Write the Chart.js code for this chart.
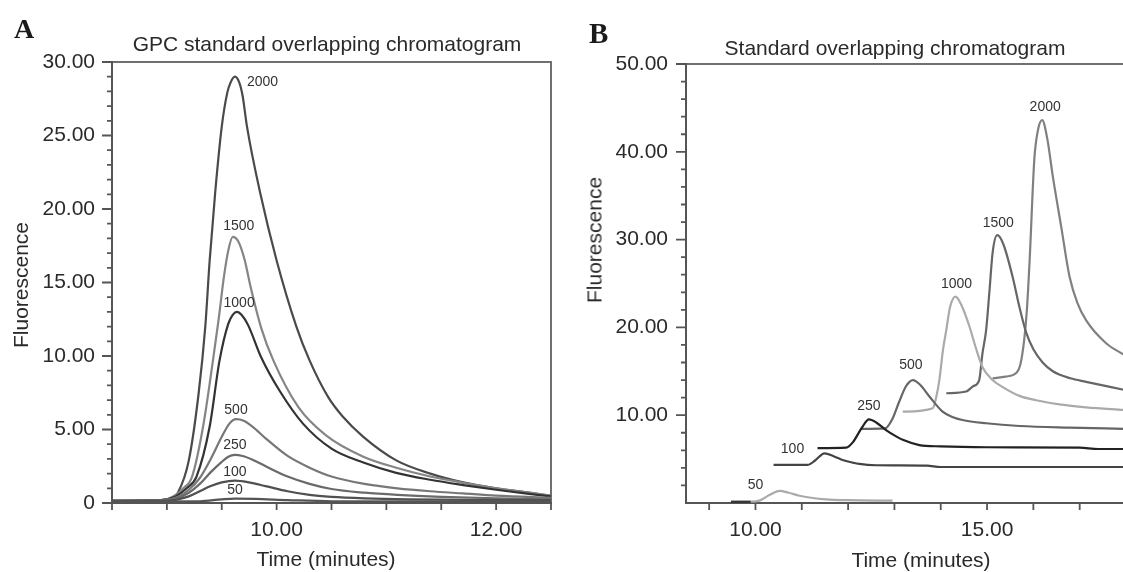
<!DOCTYPE html>
<html>
<head>
<meta charset="utf-8">
<script src="https://cdn.jsdelivr.net/npm/chart.js@4.4.0/dist/chart.umd.min.js"></script>
<style>
  html, body { margin: 0; padding: 0; background: #fff; overflow: hidden; width: 1123px; height: 572px; }
  .wrap { position: absolute; top: 0; }
  #wrapA { left: 0; }
  #wrapB { left: 560px; }
  .txt { position: absolute; font-family: "Liberation Sans", Arial, sans-serif; color: #2a2a2a; white-space: nowrap; line-height: 1; }
  .mid { transform: translate(-50%, -50%); }
  .rot { transform: translate(-50%, -50%) rotate(-90deg); }
  .panel { font-family: "Liberation Serif", "Times New Roman", serif; font-weight: bold; color: #1a1a1a; line-height: 1; }
</style>
</head>
<body>
<div id="wrapA" class="wrap"><canvas id="chartA" width="560" height="572"></canvas></div>
<div id="wrapB" class="wrap"><canvas id="chartB" width="580" height="572"></canvas></div>

<div class="txt panel" style="left:14px;top:15px;font-size:28px">A</div>
<div class="txt panel" style="left:589px;top:19px;font-size:29px">B</div>
<div class="txt mid" style="left:327px;top:43px;font-size:21px">GPC standard overlapping chromatogram</div>
<div class="txt mid" style="left:895px;top:47px;font-size:21px">Standard overlapping chromatogram</div>
<div class="txt rot" style="left:20px;top:285px;font-size:21px">Fluorescence</div>
<div class="txt rot" style="left:594px;top:240px;font-size:21px">Fluorescence</div>
<div class="txt mid" style="left:326px;top:558px;font-size:21px">Time (minutes)</div>
<div class="txt mid" style="left:921px;top:559px;font-size:21px">Time (minutes)</div>

<script>
// ---- Panel A: GPC standard overlay (time min, fluorescence) ----
const aSeries = ['2000', '1500', '1000', '500', '250', '100', '50'];
const a2000 = [[8.5,0.15],[8.95,0.2],[9.05,0.4],[9.1,0.7],[9.2,2.9],[9.29,7.5],[9.35,12.0],[9.39,16.5],[9.44,21.1],[9.5,25.6],[9.55,27.9],[9.58,28.6],[9.62,29.0],[9.66,28.6],[9.69,27.7],[9.73,25.6],[9.85,21.1],[10.0,16.5],[10.18,12.0],[10.3,9.7],[10.47,7.2],[10.6,5.9],[10.79,4.5],[11.09,2.9],[11.4,2.0],[11.7,1.4],[12.0,1.0],[12.3,0.7],[12.5,0.48]];
const a1500 = [[8.5,0.15],[8.95,0.2],[9.05,0.4],[9.15,1.0],[9.23,1.8],[9.33,5.2],[9.42,9.7],[9.47,12.4],[9.52,15.4],[9.56,17.2],[9.6,18.1],[9.65,17.8],[9.71,16.5],[9.76,14.8],[9.86,11.9],[9.97,9.7],[10.2,6.5],[10.45,4.6],[10.79,3.15],[11.09,2.4],[11.4,1.8],[11.7,1.38],[12.0,1.0],[12.3,0.7],[12.5,0.5]];
const a1000 = [[8.5,0.15],[8.95,0.2],[9.08,0.45],[9.18,1.0],[9.27,1.8],[9.39,5.2],[9.48,9.7],[9.56,12.2],[9.6,12.8],[9.64,13.0],[9.68,12.8],[9.74,12.1],[9.86,9.9],[10.03,7.6],[10.24,5.4],[10.5,3.7],[10.79,2.75],[11.09,2.05],[11.4,1.58],[11.7,1.22],[12.0,0.9],[12.3,0.62],[12.5,0.45]];
const a500 = [[8.5,0.15],[8.95,0.2],[9.1,0.4],[9.2,0.9],[9.3,1.7],[9.4,3.0],[9.5,4.5],[9.57,5.4],[9.63,5.7],[9.7,5.6],[9.78,5.2],[9.9,4.4],[10.1,3.2],[10.3,2.4],[10.5,1.8],[10.8,1.3],[11.1,1.0],[11.4,0.8],[11.7,0.65],[12.0,0.5],[12.5,0.35]];
const a250 = [[8.5,0.15],[9.0,0.2],[9.1,0.35],[9.2,0.7],[9.3,1.3],[9.4,2.1],[9.5,2.8],[9.56,3.15],[9.62,3.27],[9.69,3.2],[9.78,2.95],[9.9,2.5],[10.1,1.8],[10.3,1.3],[10.5,0.95],[10.8,0.7],[11.1,0.55],[11.5,0.42],[12.0,0.32],[12.5,0.25]];
const a100 = [[8.5,0.15],[9.0,0.15],[9.1,0.25],[9.2,0.45],[9.3,0.8],[9.4,1.15],[9.5,1.4],[9.62,1.52],[9.75,1.4],[9.9,1.15],[10.1,0.8],[10.3,0.55],[10.5,0.42],[10.8,0.32],[11.2,0.25],[12.0,0.2],[12.5,0.2]];
const a50 = [[8.5,0.1],[9.3,0.12],[9.5,0.25],[9.62,0.3],[9.8,0.28],[10.1,0.2],[10.5,0.12],[12.5,0.1]];
const aYLabels = [0, 5, 10, 15, 20, 25, 30];
const aXLabels = [10, 12];

// ---- Panel B: offset standard overlay ----
const bSeries = ['2000', '1500', '1000', '500', '250', '100', '50'];
const b2000 = [[15.12,14.2],[15.4,14.4],[15.63,14.8],[15.72,15.8],[15.8,18.5],[15.86,22],[15.92,27.7],[16.02,39.1],[16.1,42.5],[16.19,43.6],[16.3,41.5],[16.42,37.2],[16.6,31.5],[16.78,25.8],[16.95,22.8],[17.14,20.8],[17.57,18.2],[17.95,16.9]];
const b1500 = [[14.12,12.5],[14.55,12.7],[14.7,13.3],[14.83,14.0],[14.9,17],[14.98,19.7],[15.05,24],[15.12,28.5],[15.22,30.5],[15.35,29.5],[15.55,25.8],[15.7,22.3],[15.84,19.5],[16.0,17.5],[16.2,16.0],[16.42,15.0],[16.8,14.2],[17.14,13.8],[17.95,12.9]];
const b1000 = [[13.18,10.4],[13.83,10.8],[13.9,12.0],[13.97,14.0],[14.05,17.5],[14.12,19.7],[14.2,22.3],[14.32,23.5],[14.45,22.5],[14.62,20.1],[14.75,17.8],[14.9,15.5],[15.1,14.1],[15.34,13.2],[15.7,12.2],[16.06,11.7],[16.6,11.2],[17.14,10.9],[17.95,10.6]];
const b500 = [[12.28,8.45],[12.8,8.5],[12.95,9.5],[13.1,11.5],[13.25,13.3],[13.4,14.0],[13.55,13.5],[13.76,12.1],[14.04,10.4],[14.25,9.8],[14.47,9.45],[14.98,9.08],[15.7,8.77],[16.77,8.58],[17.95,8.45]];
const b250 = [[11.34,6.25],[11.96,6.3],[12.1,6.9],[12.3,8.6],[12.45,9.53],[12.6,9.2],[12.82,8.3],[13.0,7.7],[13.18,7.2],[13.54,6.6],[14.0,6.45],[15.0,6.35],[17.0,6.3],[17.4,6.15],[17.95,6.15]];
const b100 = [[10.39,4.35],[11.13,4.35],[11.3,4.9],[11.49,5.66],[11.7,5.3],[11.88,4.9],[12.1,4.6],[12.24,4.45],[12.6,4.3],[13.7,4.25],[14.0,4.1],[17.95,4.1]];
const b50 = [[9.47,0.15],[9.9,0.15],[10.1,0.3],[10.3,0.9],[10.52,1.37],[10.7,1.2],[10.95,0.83],[11.2,0.6],[11.52,0.42],[12.0,0.32],[12.96,0.26]];
const bYLabels = [10, 20, 30, 40, 50];
const bXLabels = [10, 15];

const FONT = '"Liberation Sans", Arial, sans-serif';
const pts = arr => arr.map(([x, y]) => ({ x, y }));
const range = (from, to, step) => {
    const out = [];
    for (let v = from; v <= to + 1e-9; v += step) out.push(Math.round(v * 100) / 100);
    return out;
};

// frame + tick marks drawn from the chart's own scales
const axisFrame = {
    id: 'axisFrame',
    beforeDatasetsDraw(chart, args, o) {
        const { ctx, chartArea: a } = chart;
        const xs = chart.scales.x, ys = chart.scales.y;
        ctx.save();
        ctx.lineCap = 'square';
        ctx.strokeStyle = o.edgeColor;
        ctx.lineWidth = 2;
        ctx.beginPath();
        if (o.sides.includes('top')) { ctx.moveTo(a.left, a.top); ctx.lineTo(a.right, a.top); }
        if (o.sides.includes('right')) { ctx.moveTo(a.right, a.top); ctx.lineTo(a.right, a.bottom); }
        ctx.stroke();
        ctx.strokeStyle = o.axisColor;
        ctx.beginPath();
        ctx.moveTo(a.left, a.top); ctx.lineTo(a.left, a.bottom); ctx.lineTo(a.right, a.bottom);
        ctx.stroke();
        ctx.lineWidth = 1.8;
        ctx.lineCap = 'butt';
        ctx.beginPath();
        o.yTicks.forEach(v => {
            const p = ys.getPixelForValue(v);
            const len = v % o.yMajorStep === 0 ? 10 : 5;
            ctx.moveTo(a.left, p); ctx.lineTo(a.left - len, p);
        });
        o.xTicks.forEach(v => {
            const p = xs.getPixelForValue(v);
            ctx.moveTo(p, a.bottom); ctx.lineTo(p, a.bottom + 7);
        });
        ctx.stroke();
        ctx.restore();
    }
};

// concentration tags placed at each curve's maximum
const peakLabels = {
    id: 'peakLabels',
    afterDatasetsDraw(chart) {
        const { ctx } = chart;
        const xs = chart.scales.x, ys = chart.scales.y;
        ctx.save();
        ctx.font = '14px ' + FONT;
        ctx.fillStyle = '#333';
        ctx.textBaseline = 'middle';
        chart.data.datasets.forEach(ds => {
            let top = ds.data[0];
            ds.data.forEach(p => { if (p.y > top.y) top = p; });
            ctx.textAlign = ds.tagAlign || 'center';
            ctx.fillText(ds.label, xs.getPixelForValue(top.x) + ds.tagDx, ys.getPixelForValue(top.y) + ds.tagDy);
        });
        ctx.restore();
    }
};

function line(label, data, color, tag) {
    return Object.assign({
        label: label,
        data: pts(data),
        borderColor: color,
        borderWidth: 2.2,
        pointRadius: 0,
        fill: false,
        cubicInterpolationMode: 'monotone',
        tagDx: 0,
        tagDy: -11
    }, tag || {});
}

function baseOptions(cfg) {
    return {
        responsive: false,
        animation: false,
        events: [],
        layout: { padding: cfg.padding },
        plugins: {
            legend: { display: false },
            tooltip: { enabled: false },
            axisFrame: cfg.frame
        },
        scales: {
            x: {
                type: 'linear',
                min: cfg.xMin,
                max: cfg.xMax,
                afterBuildTicks: s => { s.ticks = cfg.xLabels.map(v => ({ value: v })); },
                afterFit: s => { s.height = 69; },
                grid: { display: false, drawTicks: false },
                border: { display: false },
                ticks: {
                    autoSkip: false, maxRotation: 0, padding: 15,
                    color: '#2a2a2a', font: { family: FONT, size: 21 },
                    callback: v => v.toFixed(2)
                }
            },
            y: {
                min: cfg.yMin,
                max: cfg.yMax,
                afterBuildTicks: s => { s.ticks = cfg.yLabels.map(v => ({ value: v })); },
                afterFit: s => { s.width = cfg.yWidth; },
                grid: { display: false, drawTicks: false },
                border: { display: false },
                ticks: {
                    autoSkip: false, padding: cfg.yPad,
                    color: '#2a2a2a', font: { family: FONT, size: 21 },
                    callback: v => v === 0 ? '0' : v.toFixed(2)
                }
            }
        }
    };
}

new Chart(document.getElementById('chartA'), {
    type: 'line',
    data: {
        datasets: [
            line(aSeries[6], a50, '#555', { tagDy: -8 }),
            line(aSeries[5], a100, '#505050', { tagDy: -9 }),
            line(aSeries[4], a250, '#6a6a6a', { tagDy: -10 }),
            line(aSeries[3], a500, '#777', { tagDy: -9 }),
            line(aSeries[2], a1000, '#333', { tagDx: 2, tagDy: -9 }),
            line(aSeries[1], a1500, '#858585', { tagDx: 6, tagDy: -11 }),
            line(aSeries[0], a2000, '#4a4a4a', { tagAlign: 'left', tagDx: 12, tagDy: 5 })
        ]
    },
    options: baseOptions({
        padding: { left: 0, top: 62, right: 9, bottom: 0 },
        xMin: 8.5, xMax: 12.5, yMin: 0, yMax: 30,
        xLabels: aXLabels, yLabels: aYLabels,
        yWidth: 112, yPad: 17,
        frame: { sides: ['top', 'right'], edgeColor: '#707070', axisColor: '#555',
                 yTicks: range(0, 30, 1), yMajorStep: 5, xTicks: range(8.5, 12.5, 0.5) }
    }),
    plugins: [axisFrame, peakLabels]
});

new Chart(document.getElementById('chartB'), {
    type: 'line',
    data: {
        datasets: [
            line(bSeries[6], b50, '#aaa', { tagDx: -24, tagDy: -6,
                segment: { borderColor: c => c.p1.parsed.x <= 9.9 ? '#333' : '#aaa' } }),
            line(bSeries[5], b100, '#444', { tagDx: -32, tagDy: -4 }),
            line(bSeries[4], b250, '#222', { tagDy: -13 }),
            line(bSeries[3], b500, '#666', { tagDx: -2, tagDy: -15 }),
            line(bSeries[2], b1000, '#aaa', { tagDx: 1, tagDy: -13 }),
            line(bSeries[1], b1500, '#666', { tagDx: 1, tagDy: -12 }),
            line(bSeries[0], b2000, '#808080', { tagDx: 3, tagDy: -13 })
        ]
    },
    options: baseOptions({
        padding: { left: 0, top: 64, right: 14, bottom: 0 },
        xMin: 8.5, xMax: 18, yMin: 0, yMax: 50,
        xLabels: bXLabels, yLabels: bYLabels,
        yWidth: 126, yPad: 18,
        frame: { sides: ['top'], edgeColor: '#707070', axisColor: '#555',
                 yTicks: range(2, 50, 2), yMajorStep: 10, xTicks: range(9, 17, 1) }
    }),
    plugins: [axisFrame, peakLabels]
});
</script>
</body>
</html>
